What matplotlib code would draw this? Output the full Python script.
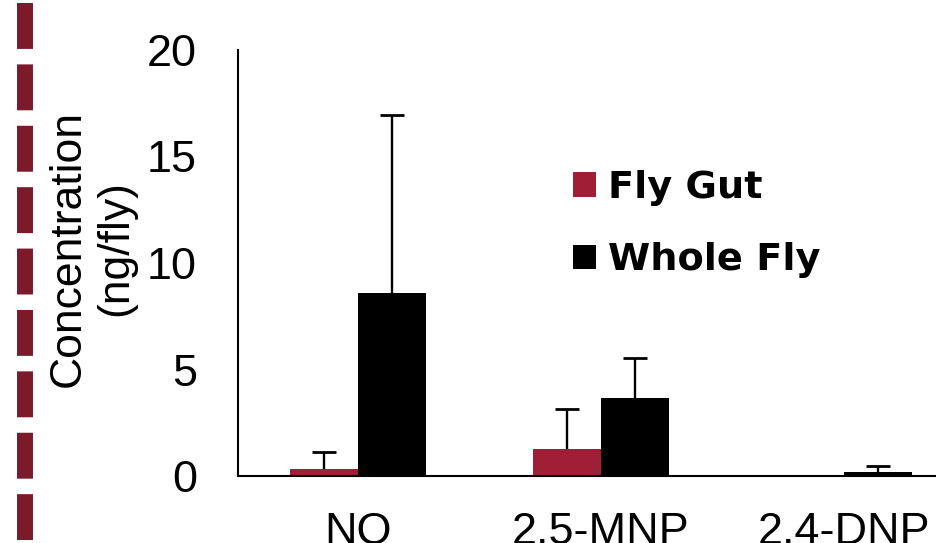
import numpy as np
import matplotlib.pyplot as plt
from matplotlib.lines import Line2D
from matplotlib.patches import Patch

# ----------------------------------------------------------------------
# Data
# ----------------------------------------------------------------------

categories = ['NQ', '2.5-MNP', '2.4-DNP']
fly_gut = [0.33, 1.27, 0.0]
fly_gut_err = [0.8, 1.88, 0.0]
whole_fly = [8.6, 3.66, 0.2]
whole_fly_err = [8.35, 1.88, 0.28]

yticks = [0, 5, 10, 15, 20]

gut_color = '#9E1F36'
dash_color = '#7B1A2B'

plt.rcParams['font.family'] = ['Liberation Sans', 'DejaVu Sans']

# ----------------------------------------------------------------------
# Upper-only error bars (no cap drawn at the bar top)
# ----------------------------------------------------------------------

def upper_errorbar(ax, xs, vals, errs):
    xs = np.asarray(xs, dtype=float)
    vals = np.asarray(vals, dtype=float)
    errs = np.asarray(errs, dtype=float)
    eb = ax.errorbar(xs, vals, yerr=[np.zeros(len(errs)), errs], fmt='none',
                     ecolor='black', elinewidth=1.7, capsize=8.6,
                     capthick=2.0, zorder=3)
    for cap in eb[1]:
        if np.allclose(cap.get_ydata(), vals):
            cap.set_visible(False)
    return eb

# ----------------------------------------------------------------------
# Figure
# ----------------------------------------------------------------------

fig = plt.figure(figsize=(9.36, 5.43), dpi=100)
W, H = 936.0, 543.0
ax = fig.add_axes([238 / W, (H - 476) / H, (936 - 238) / W, (476 - 50) / H])

x = np.arange(len(categories))
width = 0.28

ax.bar(x - width / 2, fly_gut, width, color=gut_color, zorder=2)
ax.bar(x + width / 2, whole_fly, width, color='black', zorder=2)

keep = [i for i, v in enumerate(fly_gut) if v > 0]
upper_errorbar(ax, [x[i] - width / 2 for i in keep],
               [fly_gut[i] for i in keep], [fly_gut_err[i] for i in keep])
upper_errorbar(ax, x + width / 2, whole_fly, whole_fly_err)

# x axis runs past the right edge of the picture, as in the reference
ax.set_ylim(0, 20)
ax.set_xlim(-0.494, 2.379)
ax.set_yticks(yticks)
ax.set_xticks(x)
ax.set_xticklabels(categories)
ax.tick_params(axis='both', length=0, labelsize=32.4)
ax.tick_params(axis='y', pad=29.5)
ax.tick_params(axis='x', pad=26)

for s in ['top', 'right']:
    ax.spines[s].set_visible(False)
for s in ['left', 'bottom']:
    ax.spines[s].set_linewidth(1.5)
    ax.spines[s].set_color('black')

fig.text(92 / W, 1 - 248.5 / H, 'Concentration\n(ng/fly)', rotation=90,
         fontsize=32, ha='center', va='center', linespacing=1.2)

handles = [Patch(facecolor=gut_color, label='Fly Gut'),
           Patch(facecolor='black', label='Whole Fly')]
leg = ax.legend(handles=handles, loc='upper left',
                bbox_to_anchor=(573 / W, 1 - 170 / H),
                bbox_transform=fig.transFigure, frameon=False,
                prop={'family': 'DejaVu Sans', 'size': 27.5,
                      'weight': 'bold'},
                handlelength=0.6, handleheight=0.6, handletextpad=0.32,
                labelspacing=0.95, borderpad=0, borderaxespad=0)

# dashed maroon strip on the left edge
fig.add_artist(Line2D([25 / W, 25 / W], [1 - 3 / H, 0.0],
                      transform=fig.transFigure,
                      color=dash_color, linewidth=11.5,
                      dashes=(46 / 16, 15.5 / 16), solid_capstyle='butt',
                      dash_capstyle='butt'))

fig.savefig('out.png', dpi=100)
